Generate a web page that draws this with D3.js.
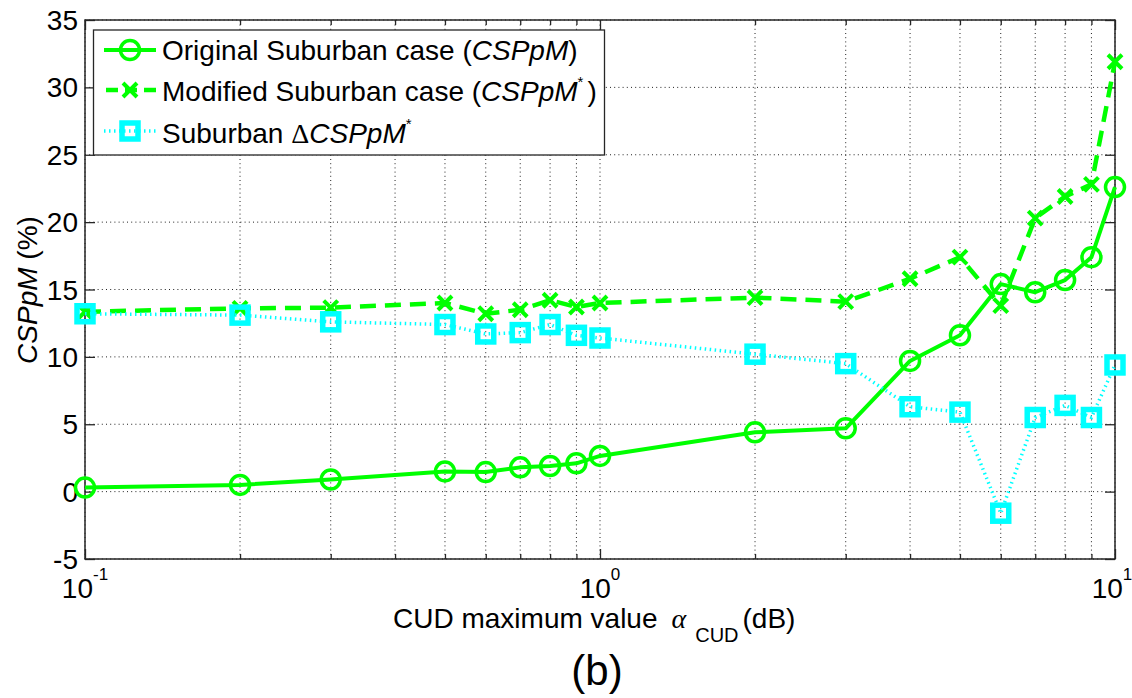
<!DOCTYPE html>
<html>
<head>
<meta charset="utf-8">
<script src="https://cdn.jsdelivr.net/npm/d3@7"></script>
<style>
  html, body { margin: 0; padding: 0; background: #fff; }
  svg { display: block; font-family: "Liberation Sans", Arial, sans-serif; }
</style>
</head>
<body>
<svg id="chart" width="1132" height="698"></svg>
<script>
// CUD maximum value (dB) sampled on a log axis
const alphaCUD = [0.1, 0.2, 0.3, 0.5, 0.6, 0.7, 0.8, 0.9, 1, 2, 3, 4, 5, 6, 7, 8, 9, 10];
// CSPpM (%) per case
const originalSuburban = [0.3, 0.5, 0.9, 1.5, 1.45, 1.8, 1.9, 2.1, 2.65, 4.4, 4.7, 9.7, 11.6, 15.4, 14.8, 15.7, 17.4, 22.6];
const modifiedSuburban = [13.35, 13.6, 13.65, 14.0, 13.2, 13.5, 14.2, 13.7, 14.0, 14.4, 14.1, 15.8, 17.4, 13.8, 20.3, 21.9, 22.8, 31.9];
const deltaSuburban    = [13.2, 13.1, 12.6, 12.4, 11.7, 11.8, 12.4, 11.6, 11.4, 10.2, 9.5, 6.3, 5.9, -1.6, 5.5, 6.4, 5.5, 9.4];
// Axis ticks
const yTicks = [-5, 0, 5, 10, 15, 20, 25, 30, 35];
const xMajorTicks = [0.1, 1, 10];
const xMajorExponents = ["-1", "0", "1"];

const GREEN = "#00ff00", CYAN = "#00ffff", AXIS = "#262626";
const FS = 28;
const svg = d3.select("#chart");
const L = 85, R = 1115, T = 20, B = 559;

const x = d3.scaleLog().domain([0.1, 10]).range([L, R]);
const y = d3.scaleLinear().domain([-5, 35]).range([B, T]);

// all decade multiples for minor ticks / grid
const xAllTicks = x.ticks();

// grid
const grid = svg.append("g").attr("stroke", "#222").attr("stroke-width", 1)
  .attr("stroke-dasharray", "1,3.2");
xAllTicks.forEach(v => {
  grid.append("line").attr("x1", x(v)).attr("x2", x(v)).attr("y1", B).attr("y2", T);
});
yTicks.forEach(v => {
  grid.append("line").attr("x1", L).attr("x2", R).attr("y1", y(v)).attr("y2", y(v));
});

// axes (ticks drawn inside the box)
const tickStyle = g => g.call(s => s.select(".domain").remove())
  .call(s => s.selectAll("line").attr("stroke", AXIS).attr("stroke-width", 1.3))
  .call(s => s.selectAll("text").remove());

const isMajor = v => Math.abs(Math.log10(v) - Math.round(Math.log10(v))) < 1e-9;
svg.append("g").attr("transform", `translate(0,${B})`)
  .call(d3.axisBottom(x).tickValues(xAllTicks).tickSizeInner(-5).tickSizeOuter(0))
  .call(tickStyle)
  .call(g => g.selectAll(".tick line").attr("y2", d => isMajor(d) ? -10 : -5));
svg.append("g").attr("transform", `translate(0,${T})`)
  .call(d3.axisTop(x).tickValues(xAllTicks).tickSizeInner(-5).tickSizeOuter(0))
  .call(tickStyle)
  .call(g => g.selectAll(".tick line").attr("y2", d => isMajor(d) ? 10 : 5));
svg.append("g").attr("transform", `translate(${L},0)`)
  .call(d3.axisLeft(y).tickValues(yTicks).tickSizeInner(-10).tickSizeOuter(0))
  .call(tickStyle);
svg.append("g").attr("transform", `translate(${R},0)`)
  .call(d3.axisRight(y).tickValues(yTicks).tickSizeInner(-10).tickSizeOuter(0))
  .call(tickStyle);

// box
svg.append("rect").attr("x", L).attr("y", T).attr("width", R - L).attr("height", B - T)
  .attr("fill", "none").attr("stroke", AXIS).attr("stroke-width", 1.5);

// y tick labels
svg.append("g").selectAll("text").data(yTicks).join("text")
  .attr("x", L - 7).attr("y", d => y(d)).attr("dy", "0.36em")
  .attr("text-anchor", "end").attr("font-size", FS).attr("fill", "#000")
  .text(d => d);

// x tick labels (powers of ten); the last one is kept inside the page edge
const xl = svg.append("g").selectAll("text").data(xMajorTicks).join("text")
  .attr("x", (d, i) => i === xMajorTicks.length - 1 ? x(d) - 3 : x(d))
  .attr("y", 598).attr("text-anchor", "middle")
  .attr("font-size", FS).attr("fill", "#000");
xl.append("tspan").text("10");
xl.append("tspan").attr("dy", -18).attr("font-size", 17).text((d, i) => xMajorExponents[i]);

// series
const pts = vals => alphaCUD.map((a, i) => [a, vals[i]]);
const line = d3.line().x(d => x(d[0])).y(d => y(d[1]));

const plot = svg.append("g");
function crossPath(s) { return `M${-s},${-s}L${s},${s}M${-s},${s}L${s},${-s}`; }

// original case: solid line, circles
plot.append("path").datum(pts(originalSuburban)).attr("d", line)
  .attr("fill", "none").attr("stroke", GREEN).attr("stroke-width", 4).attr("stroke-linejoin", "round");
plot.append("g").selectAll("circle").data(pts(originalSuburban)).join("circle")
  .attr("cx", d => x(d[0])).attr("cy", d => y(d[1])).attr("r", 9.5)
  .attr("fill", "none").attr("stroke", GREEN).attr("stroke-width", 3.5);

// modified case: dashed line, crosses
plot.append("path").datum(pts(modifiedSuburban)).attr("d", line)
  .attr("fill", "none").attr("stroke", GREEN).attr("stroke-width", 4.5)
  .attr("stroke-dasharray", "16,9");
plot.append("g").selectAll("path").data(pts(modifiedSuburban)).join("path")
  .attr("transform", d => `translate(${x(d[0])},${y(d[1])})`)
  .attr("d", crossPath(7)).attr("stroke", GREEN).attr("stroke-width", 4).attr("fill", "none");

// delta: dotted line, squares
plot.append("path").datum(pts(deltaSuburban)).attr("d", line)
  .attr("fill", "none").attr("stroke", CYAN).attr("stroke-width", 3.5)
  .attr("stroke-dasharray", "1.5,3.5");
plot.append("g").selectAll("rect").data(pts(deltaSuburban)).join("rect")
  .attr("x", d => x(d[0]) - 8).attr("y", d => y(d[1]) - 8).attr("width", 16).attr("height", 16)
  .attr("fill", "none").attr("stroke", CYAN).attr("stroke-width", 5.5);

// legend
const lg = svg.append("g");
lg.append("rect").attr("x", 93.5).attr("y", 30).attr("width", 511).attr("height", 125)
  .attr("fill", "#fff").attr("stroke", AXIS).attr("stroke-width", 1.3);
const rows = [50, 90, 131];
lg.append("line").attr("x1", 104).attr("x2", 156).attr("y1", rows[0]).attr("y2", rows[0])
  .attr("stroke", GREEN).attr("stroke-width", 4);
lg.append("circle").attr("cx", 130).attr("cy", rows[0]).attr("r", 9.5)
  .attr("fill", "none").attr("stroke", GREEN).attr("stroke-width", 3.5);
lg.append("line").attr("x1", 106).attr("x2", 156).attr("y1", rows[1]).attr("y2", rows[1])
  .attr("stroke", GREEN).attr("stroke-width", 4.5).attr("stroke-dasharray", "12,7");
lg.append("path").attr("transform", `translate(130,${rows[1]})`).attr("d", crossPath(7))
  .attr("stroke", GREEN).attr("stroke-width", 4).attr("fill", "none");
lg.append("line").attr("x1", 104).attr("x2", 156).attr("y1", rows[2]).attr("y2", rows[2])
  .attr("stroke", CYAN).attr("stroke-width", 3.5).attr("stroke-dasharray", "1.5,3.5");
lg.append("rect").attr("x", 122).attr("y", rows[2] - 8).attr("width", 16).attr("height", 16)
  .attr("fill", "none").attr("stroke", CYAN).attr("stroke-width", 5.5);

const lt1 = lg.append("text").attr("x", 162).attr("y", 60).attr("font-size", FS);
lt1.append("tspan").text("Original Suburban case (");
lt1.append("tspan").attr("font-style", "italic").text("CSPpM");
lt1.append("tspan").text(")");
const lt2 = lg.append("text").attr("x", 162).attr("y", 101).attr("font-size", FS);
lt2.append("tspan").text("Modified Suburban case (");
lt2.append("tspan").attr("font-style", "italic").text("CSPpM");
lt2.append("tspan").attr("dy", -14).attr("font-size", 15).text("*");
lt2.append("tspan").attr("dy", 14).attr("dx", 4).text(")");
const lt3 = lg.append("text").attr("x", 162).attr("y", 143).attr("font-size", FS);
lt3.append("tspan").text("Suburban ");
lt3.append("tspan").attr("font-family", "Liberation Serif, serif").text("\u0394");
lt3.append("tspan").attr("font-style", "italic").text("CSPpM");
lt3.append("tspan").attr("dy", -14).attr("font-size", 15).text("*");

// axis titles
const yt = svg.append("text").attr("transform", "translate(37,290) rotate(-90)")
  .attr("text-anchor", "middle").attr("font-size", FS);
yt.append("tspan").attr("font-style", "italic").text("CSPpM");
yt.append("tspan").text(" (%)");

const xt = svg.append("text").attr("x", 393).attr("y", 628).attr("font-size", FS);
xt.append("tspan").text("CUD maximum value");
xt.append("tspan").attr("dx", 14).attr("font-family", "Liberation Serif, serif")
  .attr("font-style", "italic").text("\u03b1");
xt.append("tspan").attr("dx", 9).attr("dy", 14).attr("font-size", 20).text("CUD");
xt.append("tspan").attr("dx", 4).attr("dy", -14).text("(dB)");

svg.append("text").attr("x", 597).attr("y", 685).attr("text-anchor", "middle")
  .attr("font-size", 42).text("(b)");
</script>
</body>
</html>
